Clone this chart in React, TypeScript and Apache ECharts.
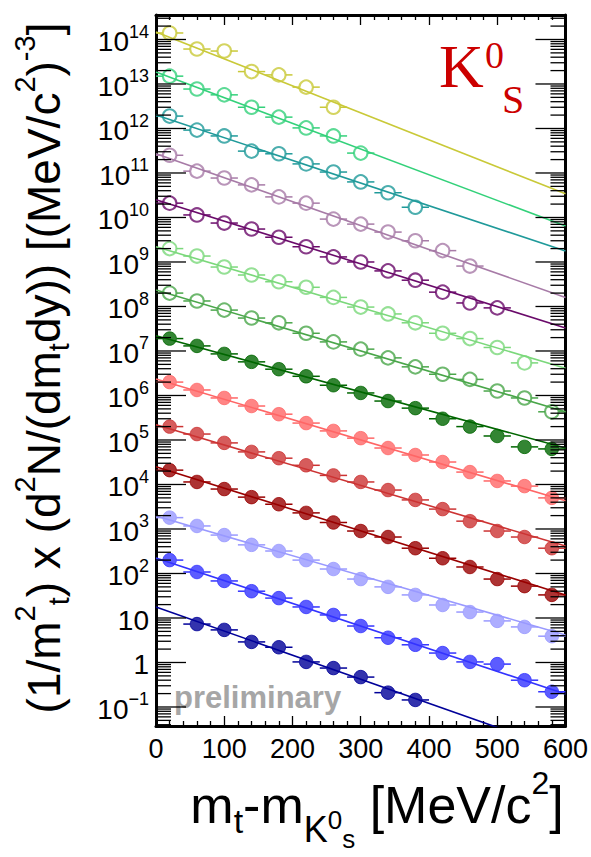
import React, { useEffect, useRef } from "react";
import * as echarts from "echarts";

// m_t - m_K0 bin centres [MeV/c^2] and half bin width
const mtBins = [20, 60, 100, 140, 180, 220, 260, 300, 340, 380, 420, 460, 500, 540, 580];
const binHalfWidth = 20;

// axis ranges
const X_MIN = 0;
const X_MAX = 600;
const Y_MIN = 0.0374;
const Y_MAX = 3.55e14;

// one entry per rapidity slice, top to bottom (scaled by powers of ten)
const sliceColors = [
  "#c9c938", "#33d17a", "#1f9a9a", "#a77ba7", "#6a0a6a", "#7bd87b", "#4aa64a",
  "#006600", "#ff6666", "#cc3333", "#990000", "#9999ff", "#3333ff", "#000099",
];
const sliceOpenMarker = [
  true, true, true, true, true, true, true,
  false, false, false, false, false, false, false,
];

// measured spectra, value per mtBins entry (null = no point)
const spectrum01 = [1.4e14, 6.1e13, 5.5e13, 1.9e13, 1.6e13, 8.5e12, 3.0e12];
const spectrum02 = [1.5e13, 7.7e12, 5.7e12, 3.0e12, 1.8e12, 1.03e12, 6.8e11, 2.8e11];
const spectrum03 = [1.9e12, 9.2e11, 6.8e11, 3.1e11, 2.7e11, 1.6e11, 1.05e11, 6.3e10, 3.6e10, 1.7e10];
const spectrum04 = [2.5e11, 1.1e11, 7.7e10, 5.4e10, 2.9e10, 2.1e10, 9.2e9, 7.1e9, 4.7e9, 3.0e9, 1.8e9, 8.1e8];
const spectrum05 = [2.1e10, 1.14e10, 7.5e9, 5.5e9, 3.6e9, 2.2e9, 1.3e9, 1.0e9, 6.3e8, 3.9e8, 2.1e8, 1.2e8, 9.3e7];
const spectrum06 = [2.0e9, 1.36e9, 7.7e8, 5.1e8, 3.6e8, 2.7e8, 1.6e8, 9.7e7, 6.8e7, 4.3e7, 2.5e7, 1.9e7, 1.2e7, 5.4e6];
const spectrum07 = [2.0e8, 1.33e8, 8.3e7, 5.5e7, 4.3e7, 2.5e7, 1.6e7, 1.1e7, 7.0e6, 4.4e6, 3.0e6, 2.3e6, 1.26e6, 8.8e5, 4.3e5];
const spectrum08 = [1.9e7, 1.3e7, 8.6e6, 5.7e6, 3.9e6, 2.7e6, 1.7e6, 1.14e6, 7.5e5, 5.2e5, 3.0e5, 2.0e5, 1.23e5, 7.0e4, 6.3e4];
const spectrum09 = [2.0e6, 1.33e6, 8.8e5, 5.8e5, 3.8e5, 2.4e5, 1.6e5, 1.1e5, 6.6e4, 4.6e4, 3.2e4, 1.9e4, 1.2e4, 9.2e3, 5.0e3];
const spectrum10 = [2.0e5, 1.36e5, 8.6e4, 5.4e4, 3.9e4, 2.7e4, 1.6e4, 1.14e4, 7.5e3, 4.5e3, 2.8e3, 1.5e3, 900, 660, 370];
const spectrum11 = [2.1e4, 1.14e4, 7.9e3, 5.2e3, 3.6e3, 2.3e3, 1.4e3, 900, 660, 370, 220, 140, 75, 52, 33];
const spectrum12 = [1.8e3, 1.17e3, 730, 440, 320, 200, 126, 75, 50, 33, 19.6, 13.6, 8.6, 6.3, 3.9];
const spectrum13 = [200, 108, 68, 40, 28, 17.7, 11.7, 6.6, 3.6, 2.5, 1.63, 1.03, 0.92, 0.4, 0.22];
const spectrum14 = [null, 7.3, 5.4, 2.9, 2.2, 1.03, 0.75, 0.47, 0.21, 0.144];

const spectra: (number | null)[][] = [
  spectrum01, spectrum02, spectrum03, spectrum04, spectrum05, spectrum06, spectrum07,
  spectrum08, spectrum09, spectrum10, spectrum11, spectrum12, spectrum13, spectrum14,
];

// exponential fits, evaluated at the two ends of the m_t range
const fitAtMin = [1.48e14, 1.86e13, 2.0e12, 2.7e11, 2.5e10, 2.2e9, 2.35e8, 2.2e7, 2.35e6, 2.2e5, 2.5e4, 1.96e3, 223, 17.7];
const fitAtMax = [3.4e10, 6.4e9, 1.77e9, 1.6e8, 3.3e7, 4.1e6, 4.3e5, 6.6e4, 4.3e3, 415, 33, 4.15, 0.196, 0.01];

const SANS = "Liberation Sans, Arial, Helvetica, sans-serif";
const SERIF = "Liberation Serif, Times New Roman, serif";
const MARKER = 13.5;
const MAJOR_TICK = 30;
const MINOR_TICK = 15;

// decade and sub-decade tick positions on the log axis
const yTicks: number[][] = [];
for (let e = -2; e <= 15; e++) {
  for (let m = 1; m <= 9; m++) {
    const v = m * Math.pow(10, e);
    if (v < Y_MIN || v > Y_MAX) continue;
    yTicks.push([X_MIN, v, m === 1 ? 1 : 0, e]);
  }
}

const decadeLabel = (e: number) => {
  if (e === 0) return "{b|1}";
  if (e === 1) return "{b|10}";
  return `{b|10}{s|${e < 0 ? "\u2212" + -e : e}}`;
};

function buildOption() {
  const series: any[] = [];

  spectra.forEach((vals, i) => {
    const color = sliceColors[i];
    const pts: number[][] = [];
    vals.forEach((v, k) => {
      if (v != null) pts.push([mtBins[k], v]);
    });

    series.push({
      type: "line",
      name: `fit ${i + 1}`,
      data: [
        [X_MIN, fitAtMin[i]],
        [X_MAX, fitAtMax[i]],
      ],
      showSymbol: false,
      symbol: "none",
      silent: true,
      clip: true,
      z: 2,
      lineStyle: { color, width: 1.6 },
    });

    series.push({
      type: "custom",
      name: `err ${i + 1}`,
      data: pts,
      silent: true,
      z: 3,
      renderItem: (_p: any, api: any) => {
        const x = api.value(0);
        const v = api.value(1);
        const c = api.coord([x, v]);
        const l = api.coord([x - binHalfWidth, v]);
        const r = api.coord([x + binHalfWidth, v]);
        const gap = MARKER / 2;
        const st = { stroke: color, lineWidth: 1.5 };
        return {
          type: "group",
          children: [
            { type: "line", shape: { x1: l[0], y1: c[1], x2: c[0] - gap, y2: c[1] }, style: st },
            { type: "line", shape: { x1: c[0] + gap, y1: c[1], x2: r[0], y2: c[1] }, style: st },
          ],
        };
      },
    });

    series.push({
      type: "scatter",
      name: `data ${i + 1}`,
      data: pts,
      symbol: "circle",
      symbolSize: MARKER,
      silent: true,
      z: 4,
      itemStyle: sliceOpenMarker[i]
        ? { color: "rgba(255,255,255,0)", borderColor: color, borderWidth: 2 }
        : { color, borderColor: color, borderWidth: 1 },
    });
  });

  // log-axis ticks (inside, both frame sides) and decade labels
  series.push({
    type: "custom",
    name: "y ticks",
    data: yTicks,
    silent: true,
    z: 6,
    clip: false,
    renderItem: (_p: any, api: any) => {
      const v = api.value(1);
      const major = api.value(2) === 1;
      const e = api.value(3);
      const left = api.coord([X_MIN, v]);
      const right = api.coord([X_MAX, v]);
      const len = major ? MAJOR_TICK : MINOR_TICK;
      const st = { stroke: "#000", lineWidth: 1.3 };
      const children: any[] = [
        { type: "line", shape: { x1: left[0], y1: left[1], x2: left[0] + len, y2: left[1] }, style: st },
        { type: "line", shape: { x1: right[0] - len, y1: right[1], x2: right[0], y2: right[1] }, style: st },
      ];
      if (major) {
        children.push({
          type: "text",
          x: left[0] - 7,
          y: left[1],
          style: {
            text: decadeLabel(e),
            align: "right",
            verticalAlign: "middle",
            fill: "#000",
            fontFamily: SANS,
            rich: {
              b: { fontSize: 28, lineHeight: 33, verticalAlign: "bottom", fontFamily: SANS, fill: "#000" },
              s: { fontSize: 18, lineHeight: 18, verticalAlign: "top", fontFamily: SANS, fill: "#000" },
            },
          },
        });
      }
      return { type: "group", children };
    },
  });

  const xAxisCommon = {
    type: "value",
    min: X_MIN,
    max: X_MAX,
    interval: 100,
    axisLine: { show: true, onZero: false, lineStyle: { color: "#000", width: 3 } },
    axisTick: { show: true, inside: true, length: 10, lineStyle: { color: "#000", width: 1.3 } },
    minorTick: { show: true, splitNumber: 5, length: 5, lineStyle: { color: "#000", width: 1.3 } },
    splitLine: { show: false },
  };
  const yAxisCommon = {
    type: "log",
    logBase: 10,
    min: Y_MIN,
    max: Y_MAX,
    axisLine: { show: true, onZero: false, lineStyle: { color: "#000", width: 3 } },
    axisTick: { show: false },
    axisLabel: { show: false },
    splitLine: { show: false },
  };

  return {
    animation: false,
    backgroundColor: "#ffffff",
    grid: { left: 156, right: 25, top: 15, bottom: 131, containLabel: false },
    xAxis: [
      {
        ...xAxisCommon,
        position: "bottom",
        axisLabel: { show: true, fontSize: 27, color: "#000", margin: 9, fontFamily: SANS },
      },
      { ...xAxisCommon, position: "top", axisLabel: { show: false } },
    ],
    yAxis: [
      { ...yAxisCommon, position: "left" },
      { ...yAxisCommon, position: "right" },
    ],
    series,
    graphic: [
      {
        type: "text",
        x: 44,
        y: 368,
        rotation: Math.PI / 2,
        silent: true,
        style: {
          text:
            "{a|(1/m}{s|2}{u|t}{a|) x (d}{s|2}{a|N/(dm}{u|t}{a|dy)) [(MeV/c}{s|2}{a|)}{s|-3}{a|]}",
          align: "center",
          verticalAlign: "middle",
          fill: "#000",
          rich: {
            a: { fontSize: 46, lineHeight: 80, verticalAlign: "middle", fontFamily: SANS, fill: "#000" },
            s: { fontSize: 29, lineHeight: 29, verticalAlign: "top", padding: [6, 0, 0, 0], fontFamily: SANS, fill: "#000" },
            u: { fontSize: 29, lineHeight: 29, verticalAlign: "top", padding: [40, 0, 0, 0], fontFamily: SANS, fill: "#000" },
          },
        },
      },
      {
        type: "text",
        x: 377,
        y: 805,
        silent: true,
        style: {
          text: "{a|m}{t|t}{a|-m}{k|K}{z|0}{q|s}{a| [MeV/c}{s|2}{a|]}",
          align: "center",
          verticalAlign: "middle",
          fill: "#000",
          rich: {
            a: { fontSize: 52, lineHeight: 96, verticalAlign: "middle", fontFamily: SANS, fill: "#000" },
            t: { fontSize: 34, lineHeight: 34, verticalAlign: "top", padding: [47, 0, 0, 0], fontFamily: SANS, fill: "#000" },
            k: { fontSize: 36, lineHeight: 36, verticalAlign: "top", padding: [54, 0, 0, 0], fontFamily: SANS, fill: "#000" },
            z: { fontSize: 26, lineHeight: 26, verticalAlign: "top", padding: [50, 0, 0, 0], fontFamily: SANS, fill: "#000" },
            q: { fontSize: 26, lineHeight: 26, verticalAlign: "top", padding: [69, 0, 0, 0], fontFamily: SANS, fill: "#000" },
            s: { fontSize: 32, lineHeight: 32, verticalAlign: "top", padding: [10, 0, 0, 0], fontFamily: SANS, fill: "#000" },
          },
        },
      },
      {
        type: "text",
        x: 174,
        y: 697,
        silent: true,
        style: {
          text: "preliminary",
          fontSize: 31,
          fontWeight: "bold",
          fontFamily: SANS,
          fill: "#a6a6a6",
          align: "left",
          verticalAlign: "middle",
        },
      },
      {
        type: "group",
        silent: true,
        children: [
          {
            type: "text",
            x: 439,
            y: 66,
            style: { text: "K", fontSize: 62, fontFamily: SERIF, fill: "#cc0000", align: "left", verticalAlign: "middle" },
          },
          {
            type: "text",
            x: 485,
            y: 55,
            style: { text: "0", fontSize: 38, fontFamily: SERIF, fill: "#cc0000", align: "left", verticalAlign: "middle" },
          },
          {
            type: "text",
            x: 502,
            y: 99,
            style: { text: "S", fontSize: 40, fontFamily: SERIF, fill: "#cc0000", align: "left", verticalAlign: "middle" },
          },
        ],
      },
    ],
  };
}

export default function App() {
  const ref = useRef<HTMLDivElement>(null);
  useEffect(() => {
    if (!ref.current) return;
    const chart = echarts.init(ref.current, undefined, { renderer: "svg" });
    chart.setOption(buildOption() as any);
    return () => chart.dispose();
  }, []);
  return <div ref={ref} style={{ width: 591, height: 857, position: "absolute", left: 0, top: 0, background: "#fff" }} />;
}
